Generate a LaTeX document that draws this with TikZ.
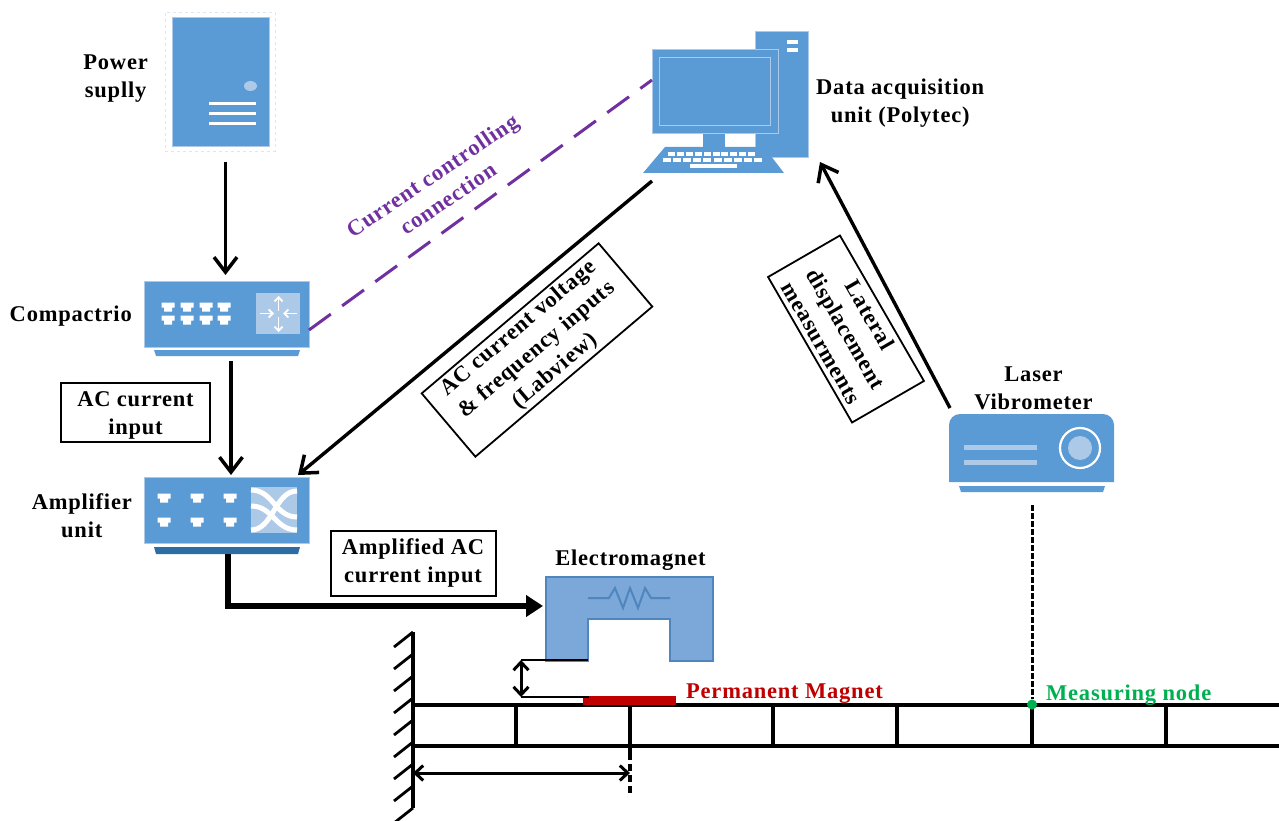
\documentclass[tikz,border=0pt]{standalone}
\usepackage{fontspec}
\setmainfont[LetterSpace=3.5]{Liberation Serif}
\usepackage{xcolor}
\usetikzlibrary{arrows.meta, positioning}
\definecolor{iconblue}{HTML}{5B9BD5}
\definecolor{iconlight}{HTML}{ACC9E8}
\definecolor{icondark}{HTML}{2E6DA4}
\definecolor{magnetblue}{HTML}{7BA7D9}
\definecolor{magnetedge}{HTML}{4F86BE}
\definecolor{wirepurple}{HTML}{7030A0}
\definecolor{magnetred}{HTML}{C00000}
\definecolor{nodegreen}{HTML}{00B050}
\tikzset{
  blockfont/.style={font=\fontsize{22.5}{28}\selectfont\bfseries, align=center},
  textlabel/.style={blockfont, inner sep=0pt},
  inputbox/.style={blockfont, rectangle, draw=black, line width=2pt, fill=white, inner sep=0pt},
  iconbox/.style={rectangle, fill=iconblue, draw=iconlight, line width=0.5pt, inner sep=0pt, outer sep=0pt},
  hiddenbox/.style={rectangle, inner sep=0pt, outer sep=0pt},
  signal/.style={-{Straight Barb[length=15pt,width=23pt,line width=3.5pt]}, line width=3.4pt},
  beamline/.style={line width=3.3pt},
  dimline/.style={{Straight Barb[length=8pt,width=15pt,line width=3pt]}-{Straight Barb[length=8pt,width=15pt,line width=3pt]}, line width=3pt},
  panelarrow/.style={white, line width=1.8pt, -{Straight Barb[length=4pt,width=8pt,line width=1.8pt]}}
}
\newcommand{\lanport}[2]{\fill[white] (#1-6.5,#2-4.5) -- (#1+6.5,#2-4.5) -- (#1+6.5,#2+0.5) -- (#1+4,#2+0.5) -- (#1+4,#2+4.5) -- (#1-4,#2+4.5) -- (#1-4,#2+0.5) -- (#1-6.5,#2+0.5) -- cycle;}
\begin{document}
\begin{tikzpicture}[x=1pt, y=-1pt]
        \useasboundingbox (0,0) rectangle (1279,821);

        % Power supply
        \node[hiddenbox, draw=iconlight!45, dashed, line width=0.6pt, minimum width=110pt, minimum height=139pt] (powerframe) at (220,81.5) {};
        \node[iconbox, minimum width=97pt, minimum height=129pt] (power) at (220.5,81.5) {};
        \fill[iconlight] (250.5,86) ellipse (6.5pt and 5pt);
        \foreach \y in {103.5,113.5,123.5}
            \fill[white] (209,\y-1.6) rectangle (256,\y+1.6);
        \node[textlabel, left=17pt of powerframe, yshift=3pt] (powerlabel) {Power\\suplly};

        % Compactrio
        \node[iconbox, minimum width=165pt, minimum height=66pt] (compactrio) at (226.5,314) {};
        \fill[iconblue] (154,350) -- (300,350) -- (298,356) -- (156,356) -- cycle;
        \node[hiddenbox, minimum width=146pt, minimum height=6pt] (compactriobase) at (227,353) {};
        \fill[iconlight] (256,293) rectangle (300,334);
        \foreach \x in {168,187,206,224} {
            \lanport{\x}{307}
            \lanport{\x}{320}
        }
        \draw[panelarrow] (260,313.5) -- (274,313.5);
        \draw[panelarrow] (297,313.5) -- (283,313.5);
        \draw[panelarrow] (278.5,311) -- (278.5,296);
        \draw[panelarrow] (278.5,317) -- (278.5,332);
        \node[textlabel, left=12pt of compactrio, yshift=-2pt] (compactriolabel) {Compactrio};

        % Amplifier unit
        \node[iconbox, minimum width=165pt, minimum height=66pt] (amplifier) at (226.5,510) {};
        \fill[icondark] (154,547) -- (300,547) -- (298,554) -- (156,554) -- cycle;
        \node[hiddenbox, minimum width=146pt, minimum height=7pt] (amplifierbase) at (227,550.5) {};
        \fill[iconlight] (251,487) rectangle (297,533);
        \draw[white, line width=5pt] (251,490) .. controls (273,490) and (275,517) .. (297,517);
        \draw[white, line width=5pt] (251,506) .. controls (273,506) and (275,530) .. (297,530);
        \draw[white, line width=5pt] (251,530) .. controls (273,530) and (275,491) .. (297,491);
        \foreach \x in {164,197,230} {
            \lanport{\x}{498}
            \lanport{\x}{522}
        }
        \node[textlabel, left=12pt of amplifier, yshift=-6pt] (amplifierlabel) {Amplifier\\unit};

        % Data acquisition unit
        \node[iconbox, minimum width=53pt, minimum height=126pt] (tower) at (781.5,94) {};
        \fill[white] (787,40.5) rectangle (798,44.5);
        \fill[white] (787,48.5) rectangle (798,52.5);
        \fill[iconblue] (703,130) rectangle (725,149);
        \node[iconbox, line width=0.9pt, minimum width=126pt, minimum height=84pt] (monitor) at (715,91) {};
        \draw[iconlight, line width=0.9pt] (659.5,57) rectangle (770,125.5);
        \fill[iconblue] (665,147) -- (764,147) -- (784,173) -- (643,173) -- cycle;
        \node[hiddenbox, minimum width=141pt, minimum height=26pt] (keyboard) at (713.5,160) {};
        \foreach \k in {0,...,9} {
            \fill[white] ({668+\k*8.9},152) rectangle +(7,4);
            \fill[white] ({663+\k*10.1},158) rectangle +(8,4);
        }
        \fill[white] (690,164) rectangle (737,168);
        \node[textlabel, anchor=west] (daqlabel) at (816,103.5) {Data acquisition\\unit (Polytec)};

        % Laser vibrometer
        \node[hiddenbox, minimum width=165pt, minimum height=68pt] (laser) at (1031.5,448) {};
        \fill[iconblue] (949,482) {[rounded corners=11pt] -- (949,414) -- (1114,414)} -- (1114,482) -- cycle;
        \fill[iconblue] (959,486) -- (1105,486) -- (1103,492) -- (961,492) -- cycle;
        \node[hiddenbox, minimum width=146pt, minimum height=6pt] (laserbase) at (1032,489) {};
        \fill[iconlight] (964,444.5) rectangle (1037,449.5);
        \fill[iconlight] (964,459.5) rectangle (1037,464.5);
        \draw[white, line width=2.2pt] (1080,448) circle (20pt);
        \fill[iconlight] (1080,448) circle (12pt);
        \node[textlabel, above=4pt of laser, xshift=2pt] (laserlabel) {Laser\\Vibrometer};

        % Electromagnet
        \node[hiddenbox, minimum width=167pt, minimum height=84pt] (magnetcore) at (629.5,619) {};
        \draw[magnetedge, fill=magnetblue, line width=2.2pt] (546,661) -- (546,577) -- (713,577) -- (713,661) -- (670,661) -- (670,619) -- (588,619) -- (588,661) -- cycle;
        \draw[magnetedge, line width=2pt] (588,598) -- (609,598) -- (615,588) -- (623,608) -- (630,588) -- (638,608) -- (645,588) -- (651,598) -- (670,598);
        \node[textlabel, above=6pt of magnetcore, xshift=1pt] (magnetlabel) {Electromagnet};

        % Beam and wall
        \draw[beamline] (413,632) -- (413,808);
        \foreach \y in {632,654,...,808}
            \draw[line width=2.8pt] (413,\y) -- +(-19,15);
        \draw[beamline] (413,705) -- (1279,705);
        \draw[beamline] (413,746) -- (1279,746);
        \foreach \x in {516,773,897,1032,1166}
            \draw[beamline] (\x,705) -- (\x,746);
        \draw[beamline] (630,703) -- (630,753);
        \draw[beamline, dash pattern=on 7pt off 4pt] (630,753) -- (630,796);
        \node[hiddenbox, fill=magnetred, minimum width=93pt, minimum height=9pt] (permmagnet) at (629.5,700.5) {};
        \node[textlabel, text=magnetred, anchor=west] (permlabel) at (686,694) {Permanent Magnet};
        \node[circle, fill=nodegreen, inner sep=0pt, minimum size=10pt] (measure) at (1032,704.5) {};
        \node[textlabel, text=nodegreen, anchor=west] (measurelabel) at (1046,695) {Measuring node};

        % Gap and distance
        \coordinate (gaptop) at (521,660);
        \coordinate (gapbot) at (521,697);
        \coordinate (distleft) at (413,773);
        \coordinate (distright) at (630,773);
        \draw[line width=1.8pt] (gaptop) -- (588,660);
        \draw[line width=1.8pt] (gapbot) -- (589,697);
        \draw[dimline] (gaptop) -- (gapbot);
        \draw[dimline] (distleft) -- (distright);

        % Boxes with text
        \node[inputbox, minimum width=149pt, minimum height=59pt] (acinput) at (135.5,412) {\rule{0pt}{22pt}AC current\\input};
        \node[inputbox, minimum width=165pt, minimum height=65pt] (ampinput) at (413,563) {Amplified AC\\current input};
        \node[inputbox, line width=1.8pt, rotate=40.3, minimum width=232pt, minimum height=83pt] (freqbox) at (537,350) {AC current voltage\\\& frequency inputs\\(Labview)};
        \node[inputbox, line width=1.8pt, rotate=-60, minimum width=168pt, minimum height=83pt] (lateralbox) at (846,329) {Lateral\\displacement\\measurments};
        \node[textlabel, text=wirepurple, rotate=34] (wirelabel) at (440,187) {Current controlling\\connection};

        % Arrows
        \draw[signal] ([xshift=5.5pt,yshift=-11pt]powerframe.south) -- ([xshift=-1pt,yshift=6pt]compactrio.north);
        \draw[signal] ([xshift=4pt,yshift=-5pt]compactriobase.south) -- ([xshift=4.5pt,yshift=2pt]amplifier.north);
        \draw[signal] ([xshift=9pt,yshift=-8pt]keyboard.south west) -- ([xshift=-11pt,yshift=2pt]amplifier.north east);
        \draw[signal] ([xshift=1pt,yshift=6pt]laser.north west) -- ([xshift=12pt,yshift=-5pt]tower.south east);
        \draw[line width=6.6pt, -{Triangle[length=17pt,width=21pt]}] ([xshift=1pt]amplifierbase.south) |- ([xshift=-3pt,yshift=13pt]magnetcore.west);
        \draw[wirepurple, line width=3pt, dash pattern=on 27pt off 14pt] ([yshift=-16pt]compactrio.east) -- ([yshift=11pt]monitor.west);
        \draw[line width=3pt, dash pattern=on 6pt off 2pt] ([yshift=-13pt]laserbase.south) -- (measure);

\end{tikzpicture}
\end{document}
